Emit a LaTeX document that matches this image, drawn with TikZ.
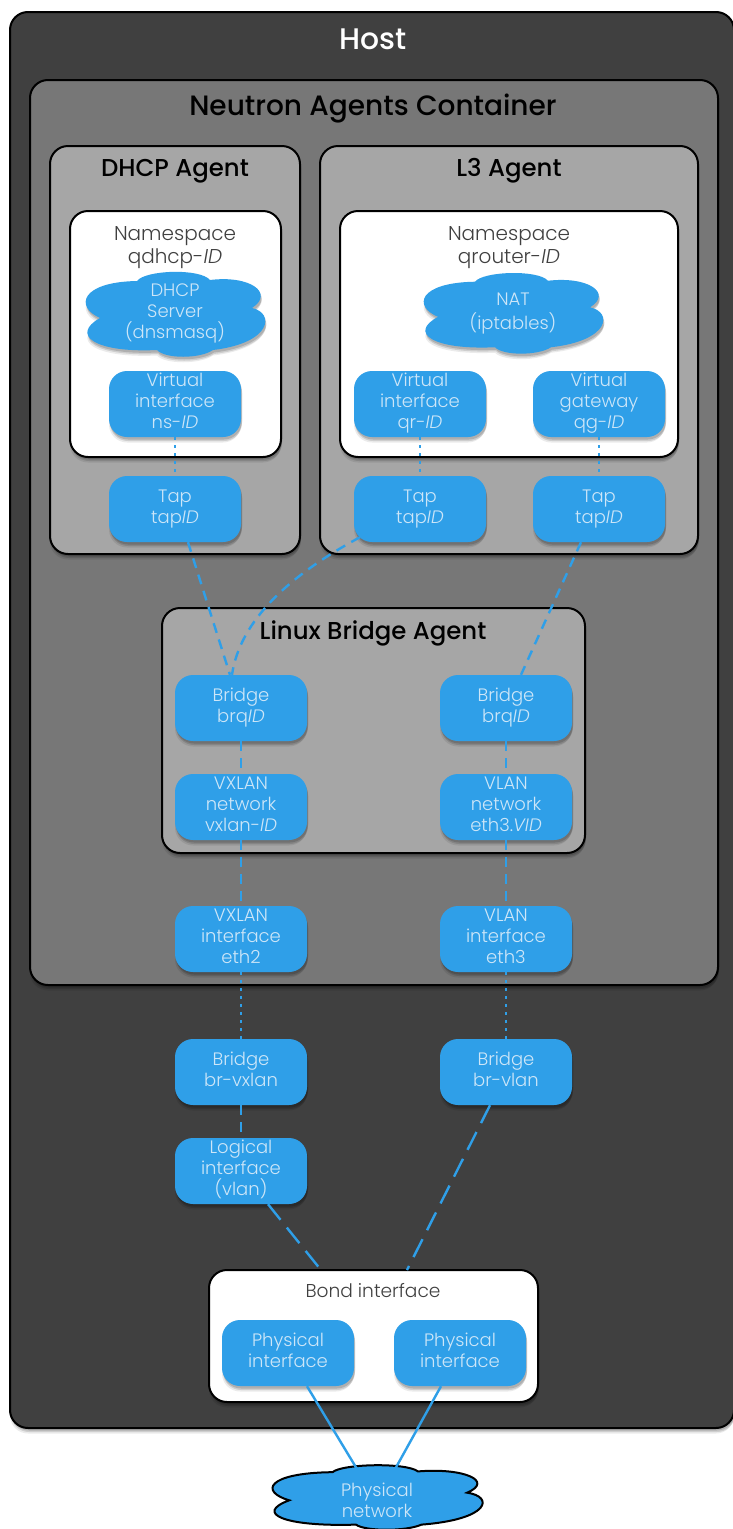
\documentclass[tikz,border=0pt]{standalone}
\usepackage{fontspec}
\setmainfont{Poppins}[UprightFont=* Light,ItalicFont=* Light Italic,BoldFont=* Medium]
\usetikzlibrary{shadows,calc}
\definecolor{hostc}{HTML}{404040}
\definecolor{contc}{HTML}{777777}
\definecolor{agentc}{HTML}{A6A6A6}
\definecolor{bluec}{HTML}{2F9FE8}
\definecolor{bluet}{HTML}{CDE6F8}
\definecolor{nstext}{HTML}{404040}
\tikzset{
 x=1pt,y=-1pt,
 shad/.style={
  drop shadow={shadow xshift=0pt,shadow yshift=-5.5pt,opacity=.08,fill=black},
  drop shadow={shadow xshift=1pt,shadow yshift=-4pt,opacity=.12,fill=black},
  drop shadow={shadow xshift=1pt,shadow yshift=-2.5pt,opacity=.15,fill=black}},
 panel/.style={draw=black,line width=2pt,rounded corners=18pt,shad},
 blue/.style={fill=bluec,rounded corners=18pt,minimum width=132pt,minimum height=66pt,inner sep=0pt,
   text=bluet,align=center,font=\fontsize{18}{21}\selectfont,shad},
 cloudfill/.style={fill=bluec,shad},
 cloudtext/.style={text=bluet,align=center,font=\fontsize{18}{21}\selectfont,inner sep=0pt},
 title/.style={font=\fontsize{24.4}{28}\selectfont\bfseries,text=black,inner sep=0pt},
 nstitle/.style={font=\fontsize{20}{23}\selectfont,text=nstext,align=center,inner sep=0pt},
 link/.style={draw=bluec,line width=2.4pt},
 dashlink/.style={link,dash pattern=on 10pt off 7pt},
 longdash/.style={link,dash pattern=on 20pt off 10pt},
 dotlink/.style={link,dash pattern=on 3pt off 5pt},
}
\newcommand{\twol}[2]{\strut #1\\#2\strut}
\newcommand{\threel}[3]{\strut #1\\#2\\#3\rule[-8.3pt]{0pt}{0pt}}
\newcommand{\cloudpath}{(-75,3) .. controls (-100,-8) and (-95,-33) .. (-38,-34)
 .. controls (-30,-45) and (25,-47) .. (35,-35)
 .. controls (75,-40) and (100,-22) .. (77,-7)
 .. controls (100,-2) and (97,28) .. (38,35)
 .. controls (25,44) and (-10,44) .. (-18,35)
 .. controls (-80,38) and (-105,20) .. (-75,3) -- cycle}
\begin{document}
\begin{tikzpicture}
\useasboundingbox (0,0) rectangle (732,1529);
\fill[white] (0,0) rectangle (732,1529);
% panels
\draw[panel,fill=hostc] (10,12) rectangle (734,1428);
\node[text=white,font=\fontsize{29.8}{32}\selectfont\bfseries,inner sep=0pt] (hostt) at (373,39) {Host};
\draw[panel,fill=contc] (30,80) rectangle (718,985);
\node[title,font=\fontsize{28}{32}\selectfont\bfseries] (contt) at (373,109) {Neutron Agents Container};
\draw[panel,fill=agentc] (50,146) rectangle (300,554);
\node[title] (dhcpt) at (175,171) {DHCP Agent};
\draw[panel,fill=agentc] (320,146) rectangle (698,554);
\node[title] (l3t) at (509,171) {L3 Agent};
\draw[panel,fill=white] (70,211) rectangle (281,457);
\node[nstitle] (ns1t) at (175,247) {\twol{Namespace}{qdhcp-\textit{ID}}};
\draw[panel,fill=white] (340,211) rectangle (678,457);
\node[nstitle] (ns2t) at (509,247) {\twol{Namespace}{qrouter-\textit{ID}}};
\draw[panel,fill=agentc] (162,608) rectangle (585,853);
\node[title] (lbt) at (373,633) {Linux Bridge Agent};
\draw[panel,fill=white] (209,1270) rectangle (538,1402);
\node[nstitle,font=\fontsize{18.6}{22}\selectfont] (bondt) at (373,1291) {Bond interface};
% clouds
\begin{scope}[shift={(175,315)}]
 \path[cloudfill] \cloudpath;
\end{scope}
\node[cloudtext] (dhcps) at (175,313) {\strut DHCP\\Server\\(dnsmasq)\strut};
\begin{scope}[shift={(513,314)},yscale=.95]
 \path[cloudfill] \cloudpath;
\end{scope}
\node[cloudtext] (nat) at (513,313) {\twol{NAT}{(iptables)}};
\begin{scope}[shift={(377,1498)},xscale=1.17,yscale=.76]
 \path[fill=bluec,draw=black,line width=2pt] \cloudpath;
\end{scope}
\node[cloudtext] (physnet) at (377,1502.5) {\twol{Physical}{network}};
% blue boxes
\node[blue] (vns) at (175,404) {\threel{Virtual}{interface}{ns-\textit{ID}}};
\node[blue] (vqr) at (420,404) {\threel{Virtual}{interface}{qr-\textit{ID}}};
\node[blue] (vqg) at (599,404) {\threel{Virtual}{gateway}{qg-\textit{ID}}};
\node[blue] (tap1) at (175,509) {\twol{Tap}{tap\textit{ID}}};
\node[blue] (tap2) at (420,509) {\twol{Tap}{tap\textit{ID}}};
\node[blue] (tap3) at (599,509) {\twol{Tap}{tap\textit{ID}}};
\node[blue] (br1) at (241,708) {\twol{Bridge}{brq\textit{ID}}};
\node[blue] (br2) at (506,708) {\twol{Bridge}{brq\textit{ID}}};
\node[blue] (vx) at (241,807) {\threel{VXLAN}{network}{vxlan-\textit{ID}}};
\node[blue] (vl) at (506,807) {\threel{VLAN}{network}{eth3.\textit{VID}}};
\node[blue] (ifx) at (241,939) {\threel{VXLAN}{interface}{eth2}};
\node[blue] (ifl) at (506,939) {\threel{VLAN}{interface}{eth3}};
\node[blue] (brx) at (241,1072) {\twol{Bridge}{br-vxlan}};
\node[blue] (brl) at (506,1072) {\twol{Bridge}{br-vlan}};
\node[blue] (logi) at (241,1171) {\threel{Logical}{interface}{(vlan)}};
\node[blue] (ph1) at (288,1353) {\twol{Physical}{interface}};
\node[blue] (ph2) at (460,1353) {\twol{Physical}{interface}};
% connectors
\draw[dotlink] (vns.south) -- (tap1.north);
\draw[dotlink] (vqr.south) -- (tap2.north);
\draw[dotlink] (vqg.south) -- (tap3.north);
\draw[dashlink] ([xshift=13pt]tap1.south) -- ([xshift=-11pt]br1.north);
\draw[dashlink] ([xshift=-60pt,yshift=5pt]tap2.south) .. controls (290,575) and (240,620) .. ([xshift=-9pt]br1.north);
\draw[dashlink] ([xshift=-18pt]tap3.south) -- ([xshift=15pt]br2.north);
\draw[dashlink] (br1.south) -- (vx.north);
\draw[dashlink] (br2.south) -- (vl.north);
\draw[dashlink] (vx.south) -- (ifx.north);
\draw[dashlink] (vl.south) -- (ifl.north);
\draw[dotlink] (ifx.south) -- (brx.north);
\draw[dotlink] (ifl.south) -- (brl.north);
\draw[dashlink] (brx.south) -- (logi.north);
\draw[longdash] ([xshift=27pt]logi.south) -- ([xshift=-52pt]bondt.north |- 0,1270);
\draw[longdash] ([xshift=-16pt]brl.south) -- ([xshift=34pt]bondt.north |- 0,1270);
\draw[link] ([xshift=19pt]ph1.south) -- ([xshift=-20pt,yshift=33.5pt]physnet.center);
\draw[link] ([xshift=-19pt]ph2.south) -- ([xshift=17pt,yshift=31.5pt]physnet.center);
\end{tikzpicture}
\end{document}
